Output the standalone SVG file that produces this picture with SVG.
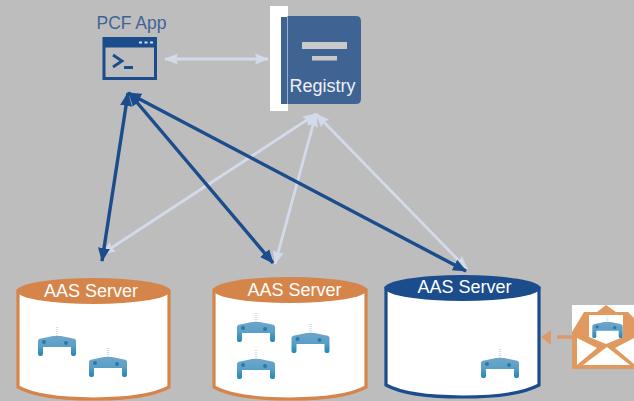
<svg xmlns="http://www.w3.org/2000/svg" width="634" height="401" viewBox="0 0 634 401">
<style>
text{font-family:"Liberation Sans",Arial,sans-serif}
.lbl{font-size:18px;fill:#fff;text-anchor:middle}
.dk{stroke:#1b4c8c;stroke-width:3.400;fill:none}
.lt{stroke:#d3dbea;stroke-width:2.800;fill:none}
.or{fill:#fff;stroke:#d5854a;stroke-width:3.200}
.bl{fill:#fff;stroke:#1b4c8c;stroke-width:3.200}
</style>
<defs>
<linearGradient id="rg" x1="0" y1="0" x2="0" y2="1"><stop offset="0" stop-color="#6ea6cb"/><stop offset="0.500" stop-color="#5b9fc6"/><stop offset="1" stop-color="#1f88b2"/></linearGradient>
<marker id="ad" markerUnits="userSpaceOnUse" markerWidth="16" markerHeight="14" refX="13" refY="7" orient="auto-start-reverse"><path d="M0 1L14 7L0 13z" fill="#1b4c8c"/></marker>
<marker id="al" markerUnits="userSpaceOnUse" markerWidth="16" markerHeight="14" refX="13" refY="7" orient="auto-start-reverse"><path d="M0 1.500L14 7L0 12.500L2 7z" fill="#d3dbea"/></marker>
<g id="robot">
<path d="M0 -9V0" stroke="#cfe0ea" stroke-width="2.400" stroke-dasharray="1 1" fill="none"/>
<path d="M-19 5Q-19 3 -16 2.500L-4 0H4L16 2.500Q19 3 19 5V18Q19 20 17 20H16Q14 20 14 18V11H-14V18Q-14 20 -16 20H-17Q-19 20 -19 18z" fill="url(#rg)"/>
<circle cx="-13" cy="6" r="2" fill="#2d78a8"/><circle cx="9" cy="7" r="2" fill="#2d78a8"/>
</g>
</defs>
<rect width="634" height="401" fill="#bdbdbd"/>

<g id="pcf-app">
<text x="131.500" y="29" font-size="17.500" fill="#3f6494" text-anchor="middle">PCF App</text>
<rect x="102.500" y="37" width="54.500" height="43" fill="#1b4c8c"/>
<rect x="105.500" y="47.500" width="48.500" height="29.500" fill="#bdbdbd"/>
<path d="M113 55L122 61L113 67M124 67.500H133" fill="none" stroke="#1b4c8c" stroke-width="2.800"/>
<path d="M139 42.500h3M144.500 42.500h3M150 42.500h3" stroke="#d8e0ec" stroke-width="2.200"/>
</g>

<g id="registry">
<rect x="270" y="6" width="18" height="105" fill="#fff"/>
<path d="M287.500 16H356Q361 16 361 21V99Q361 104 356 104H287.500z" fill="#3f6494"/>
<rect x="281" y="17" width="6" height="87" fill="#3f6494"/>
<rect x="302" y="42" width="45" height="7" fill="#c9c9c9"/>
<rect x="312" y="56" width="25" height="4.500" fill="#c9c9c9"/>
<text x="322.500" y="92" font-size="18" fill="#eef1f6" text-anchor="middle">Registry</text>
</g>

<g id="connectors">
<path class="lt" d="M165 59H268" marker-start="url(#al)" marker-end="url(#al)"/>
<path class="lt" d="M102 254L316 114" marker-start="url(#al)" marker-end="url(#al)"/>
<path class="lt" d="M275 264L316 114" marker-start="url(#al)" marker-end="url(#al)"/>
<path class="lt" d="M467 269L316 114" marker-start="url(#al)" marker-end="url(#al)"/>
<path class="dk" d="M102 261L128 93" marker-start="url(#ad)" marker-end="url(#ad)"/>
<path class="dk" d="M273 263L129 93" marker-start="url(#ad)" marker-end="url(#ad)"/>
<path class="dk" d="M466 271L128 93" marker-start="url(#ad)" marker-end="url(#ad)"/>
<path d="M575 337H557" stroke="#dd9a68" stroke-width="3.500"/>
<path d="M541 337L551 330V345z" fill="#dd9a68"/>
</g>

<g id="aas-server-1">
<path class="or" d="M18 291V387Q40 399 93.500 399Q147 399 169 387V291z"/>
<ellipse cx="93.500" cy="291" rx="77" ry="13" fill="#d5854a"/>
<text class="lbl" x="91" y="297">AAS Server</text>
<use href="#robot" x="57" y="336"/>
<use href="#robot" x="108" y="357"/>
</g>

<g id="aas-server-2">
<path class="or" d="M214 290V387Q236 399 290 399Q344 399 366 387V290z"/>
<ellipse cx="290" cy="290" rx="77" ry="13" fill="#d5854a"/>
<text class="lbl" x="294.500" y="296">AAS Server</text>
<use href="#robot" x="256" y="322"/>
<use href="#robot" x="310.500" y="333"/>
<use href="#robot" x="256" y="359"/>
</g>

<g id="aas-server-3">
<path class="bl" d="M386 288V385Q408 397 462.500 397Q517 397 539 385V288z"/>
<ellipse cx="462.500" cy="288" rx="78" ry="13" fill="#1b4c8c"/>
<text class="lbl" x="464.500" y="293">AAS Server</text>
<use href="#robot" x="500" y="358"/>
</g>

<g id="envelope">
<rect x="572" y="305" width="62" height="64" fill="#fff"/>
<path d="M572 369V332L584 312H597L606 305L616 312H628L634 318V369z" fill="#e0995f"/>
<path d="M589 315H623V337L606 344L589 337z" fill="#fff"/>
<path d="M577 338V365L597 348z" fill="#fff"/>
<path d="M634 338V364L615 348z" fill="#fff"/>
<path d="M583 365L607 347L630 365z" fill="#fff"/>
<use href="#robot" transform="translate(607.500 322) scale(0.8)"/>
</g>
</svg>
